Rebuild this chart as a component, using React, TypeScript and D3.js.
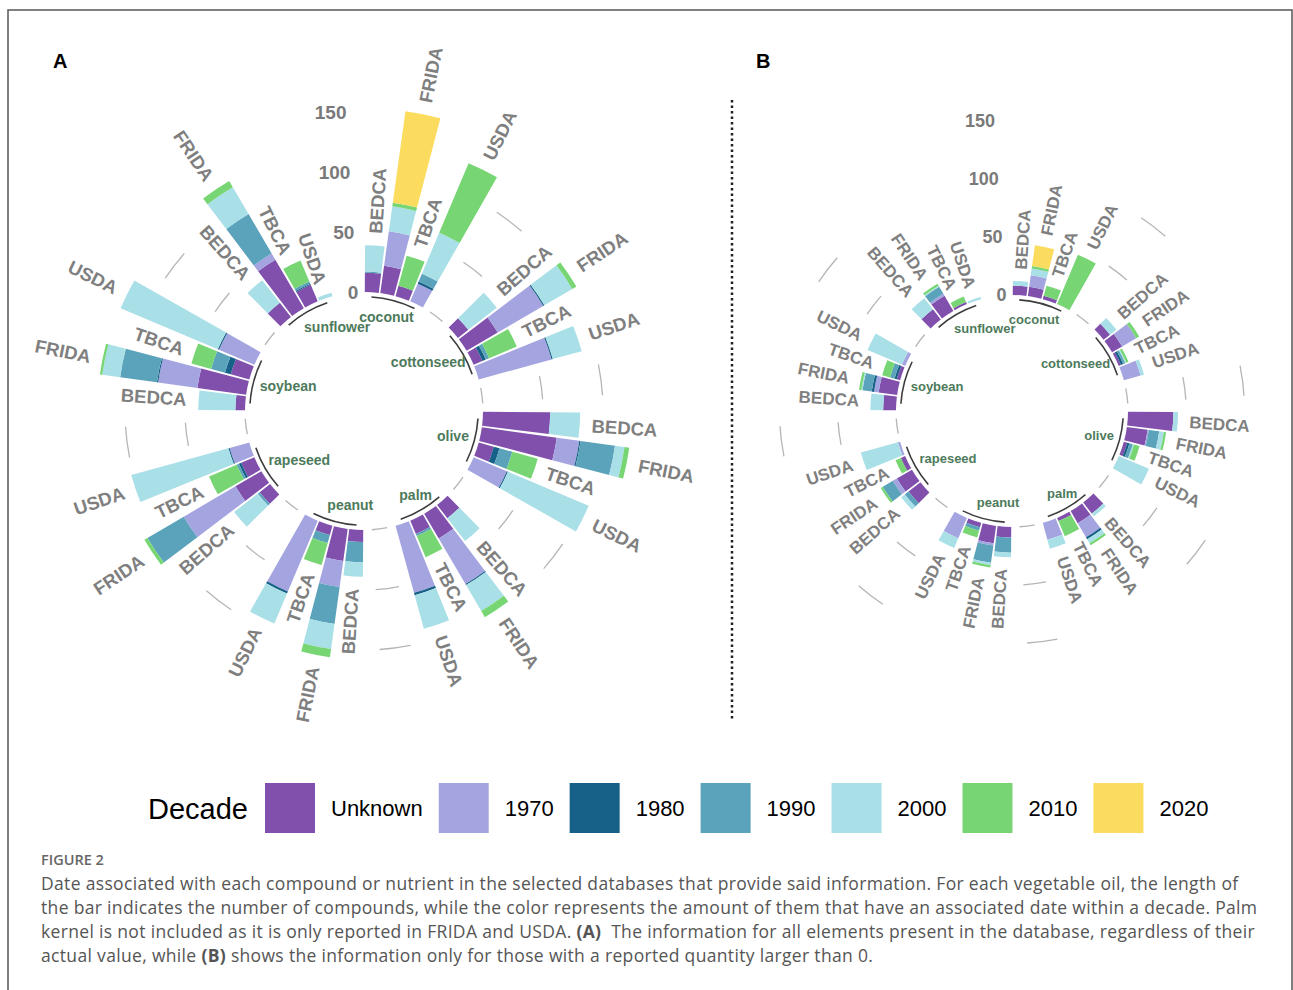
import React from 'react';
import * as d3 from 'd3';

// ---- data ----
const decades = ['Unknown', '1970', '1980', '1990', '2000', '2010', '2020'];
const decadeColors = ['#8150ac', '#a4a5e0', '#176087', '#5ba3bb', '#a9dfe7', '#77d673', '#fcdc5e'];
const oils = ['coconut', 'cottonseed', 'olive', 'palm', 'peanut', 'rapeseed', 'soybean', 'sunflower'];
const databases = ['BEDCA', 'FRIDA', 'TBCA', 'USDA'];
const radialTicks = [0, 50, 100, 150];
const gridValues = [0, 50, 100];

// one row per bar (oil by oil, databases in order), columns follow `decades`
const countsA = [
  [16, 0, 0, 1, 22, 0, 0], [23, 29, 0, 0, 21, 3, 77], [9, 0, 0, 0, 0, 26, 0], [0, 16, 2, 7, 37, 63, 0], // coconut
  [11, 0, 0, 0, 30, 0, 0], [30, 44, 1, 0, 27, 4, 0], [8, 0, 3, 3, 0, 25, 0], [0, 63, 1, 0, 25, 0, 0], // cottonseed
  [56, 0, 0, 0, 25, 0, 0], [63, 19, 1, 29, 8, 4, 0], [13, 0, 5, 11, 0, 22, 0], [0, 30, 1, 0, 73, 0, 0], // olive
  [14, 0, 0, 0, 24, 0, 0], [24, 44, 1, 0, 25, 6, 0], [12, 0, 0, 2, 0, 19, 0], [0, 58, 2, 0, 29, 0, 0], // palm
  [10, 0, 0, 17, 12, 0, 0], [27, 22, 0, 31, 21, 7, 0], [8, 0, 0, 7, 0, 19, 0], [0, 64, 2, 0, 27, 0, 0], // peanut
  [11, 0, 0, 2, 25, 0, 0], [25, 50, 0, 35, 0, 3, 0], [12, 0, 2, 2, 0, 25, 0], [0, 17, 1, 0, 84, 0, 0], // rapeseed
  [8, 0, 0, 0, 31, 0, 0], [41, 33, 1, 31, 15, 2, 0], [16, 0, 5, 12, 0, 17, 0], [0, 32, 1, 0, 88, 0, 0], // soybean
  [15, 0, 0, 0, 24, 0, 0], [47, 6, 0, 38, 26, 6, 0], [15, 0, 1, 2, 0, 19, 0], [0, 0, 0, 0, 3, 0, 0], // sunflower
];

const countsB = [
  [8, 0, 0, 0, 4, 0, 0], [8, 10, 0, 0, 6, 2, 18], [3, 0, 0, 0, 0, 9, 0], [0, 0, 0, 0, 0, 46, 0], // coconut
  [7, 0, 0, 0, 7, 0, 0], [10, 14, 0, 0, 0, 3, 0], [2, 0, 2, 2, 1, 2, 0], [0, 15, 0, 0, 3, 0, 0], // cottonseed
  [39, 0, 0, 0, 4, 0, 0], [18, 1, 0, 9, 4, 2, 0], [3, 0, 2, 3, 1, 5, 0], [0, 0, 0, 0, 28, 0, 0], // olive
  [12, 0, 0, 0, 3, 0, 0], [12, 14, 2, 0, 4, 2, 0], [3, 0, 0, 0, 0, 14, 0], [0, 15, 0, 0, 8, 0, 0], // palm
  [9, 0, 0, 13, 4, 0, 0], [15, 2, 0, 15, 2, 2, 0], [4, 0, 0, 3, 0, 6, 0], [0, 19, 0, 0, 9, 0, 0], // peanut
  [13, 0, 0, 4, 4, 0, 0], [15, 4, 0, 10, 0, 2, 0], [4, 0, 0, 0, 0, 5, 0], [0, 2, 0, 0, 33, 0, 0], // rapeseed
  [11, 0, 0, 0, 11, 0, 0], [16, 4, 2, 8, 1, 2, 0], [3, 0, 2, 4, 0, 7, 0], [0, 3, 0, 0, 32, 0, 0], // soybean
  [11, 0, 0, 0, 12, 0, 0], [15, 2, 0, 7, 1, 2, 0], [2, 0, 0, 0, 0, 5, 0], [0, 0, 0, 0, 2, 0, 0], // sunflower
];

const captionLines = [
  'Date associated with each compound or nutrient in the selected databases that provide said information. For each vegetable oil, the length of',
  'the bar indicates the number of compounds, while the color represents the amount of them that have an associated date within a decade. Palm',
];

// ---- layout ----
const panelA = { cx: 364, cy: 411, r0: 119, unit: 1.2, labelSize: 18.5, groupSize: 14, tickSize: 19 };
const panelB = { cx: 1012, cy: 411, r0: 116, unit: 1.165, labelSize: 17, groupSize: 13, tickSize: 18 };
// horizontal justification of the oil names around the inner ring
const groupHjust = [0.55, 0.77, 0.66, 0.41, 0.25, 0.18, 0.18, 0.17];

const FONT = "'Liberation Sans', Arial, Helvetica, sans-serif";
const LABEL_GREY = '#7f7f7f';

const measureCtx = typeof document !== 'undefined' ? document.createElement('canvas').getContext('2d') : null;
function textWidth(t: string, font: string) {
  if (!measureCtx) return t.length * 8;
  measureCtx.font = font;
  return measureCtx.measureText(t).width;
}

function CircularPanel({ counts, layout }: { counts: number[][]; layout: typeof panelA }) {
  const { cx, cy, r0, unit, labelSize, groupSize, tickSize } = layout;

  const slots = oils.flatMap(o => [...databases.map(d => `${o}|${d}`), `${o}|gap1`, `${o}|gap2`]);
  const angle = d3.scaleBand<string>().domain(slots).range([0, 2 * Math.PI]).paddingInner(0.1).paddingOuter(0.05);
  const y = d3.scaleLinear().domain([0, 150]).range([r0, r0 + 150 * unit]);
  const mid = (k: string) => (angle(k) as number) + angle.bandwidth() / 2;
  const pt = (a: number, r: number) => [r * Math.sin(a), -r * Math.cos(a)];

  const rows = counts.map((vals, i) => {
    const row: any = { key: `${oils[Math.floor(i / 4)]}|${databases[i % 4]}`, total: d3.sum(vals) };
    decades.forEach((d, j) => { row[d] = vals[j]; });
    return row;
  });
  const series = d3.stack<any>().keys(decades)(rows);
  const arc = d3.arc<any>();

  const ringArc = (a0: number, a1: number, r: number) => {
    const p = d3.path();
    p.arc(0, 0, r, a0 - Math.PI / 2, a1 - Math.PI / 2);
    return p.toString();
  };

  return (
    <g transform={`translate(${cx},${cy})`}>
      {/* grid segments in the gaps between oils */}
      {oils.slice(0, -1).map(o =>
        gridValues.map(v => (
          <path key={`${o}-${v}`} d={ringArc(mid(`${o}|gap1`), mid(`${o}|gap2`), y(v))}
            fill="none" stroke="#b5b5b5" strokeWidth={1.3} />
        ))
      )}
      {/* stacked bars */}
      {series.map((s, j) =>
        s.map(d => {
          if (d[1] - d[0] <= 0) return null;
          const k = d.data.key;
          return (
            <path key={`${k}-${j}`} fill={decadeColors[j]}
              d={arc({ innerRadius: y(d[0]), outerRadius: y(d[1]), startAngle: angle(k), endAngle: (angle(k) as number) + angle.bandwidth() }) as string} />
          );
        })
      )}
      {/* database labels */}
      {rows.map(r => {
        const a = mid(r.key);
        const [x, yy] = pt(a, y(r.total + 10));
        const deg = (a * 180) / Math.PI;
        const right = deg < 180;
        return (
          <text key={`lab-${r.key}`} transform={`translate(${x},${yy}) rotate(${right ? deg - 90 : deg + 90})`}
            textAnchor={right ? 'start' : 'end'} dominantBaseline="central"
            fontSize={labelSize} fontWeight="bold" fill={LABEL_GREY}>
            {r.key.split('|')[1]}
          </text>
        );
      })}
      {/* oil arcs and names */}
      {oils.map((o, i) => {
        const a0 = mid(`${o}|${databases[0]}`);
        const a1 = mid(`${o}|${databases[3]}`);
        const [x, yy] = pt((a0 + a1) / 2, y(-18));
        const w = textWidth(o, `bold ${groupSize}px ${FONT}`);
        return (
          <g key={`grp-${o}`}>
            <path d={ringArc(a0, a1, y(-4))} fill="none" stroke="#1a1a1a" strokeOpacity={0.85} strokeWidth={1.6} />
            <text x={x - groupHjust[i] * w} y={yy} dominantBaseline="central" fontSize={groupSize}
              fontWeight="bold" fill="#4d7a5b">{o}</text>
          </g>
        );
      })}
      {/* radial axis labels */}
      {radialTicks.map(v => {
        const [x, yy] = pt(mid(`${oils[oils.length - 1]}|gap2`), y(v));
        return (
          <text key={`tick-${v}`} x={x + 2} y={yy} textAnchor="end" dominantBaseline="central"
            fontSize={tickSize} fontWeight="bold" fill="#7a7a7a">{v}</text>
        );
      })}
    </g>
  );
}

function Legend() {
  const labelFont = `22px ${FONT}`;
  let x = 265;
  const items = decades.map((d, i) => {
    const item = { d, color: decadeColors[i], x };
    x += 50 + 16 + textWidth(d, labelFont) + 16;
    return item;
  });
  return (
    <g>
      <text x={148} y={819} fontSize={29}>Decade</text>
      {items.map(it => (
        <g key={it.d}>
          <rect x={it.x} y={783} width={50} height={50} fill={it.color} />
          <text x={it.x + 66} y={816} fontSize={22}>{it.d}</text>
        </g>
      ))}
    </g>
  );
}

function Caption() {
  const capFont = "'Open Sans', 'Noto Sans', sans-serif";
  return (
    <g fontFamily={capFont} fill="#555" fontSize={17.5} letterSpacing={0.33}>
      <text x={41} y={865} fontSize={14.5} fontWeight={600} fill="#666" letterSpacing={0}>FIGURE 2</text>
      {captionLines.map((l, i) => (
        <text key={i} x={41} y={890 + i * 24}>{l}</text>
      ))}
      <text x={41} y={938} style={{ whiteSpace: 'pre' }}>
        kernel is not included as it is only reported in FRIDA and USDA. <tspan fontWeight="bold">(A)</tspan>
        {'  The information for all elements present in the database, regardless of their'}
      </text>
      <text x={41} y={962}>
        actual value, while <tspan fontWeight="bold">(B)</tspan> shows the information only for those with a reported quantity larger than 0.
      </text>
    </g>
  );
}

export default function App() {
  return (
    <svg width={1293} height={990} style={{ position: 'absolute', left: 0, top: 0, background: '#fff' }}
      fontFamily={FONT}>
      <rect x={0} y={0} width={1293} height={990} fill="#fff" />
      <rect x={8} y={10} width={1284} height={995} fill="none" stroke="#555" strokeWidth={1.5} />
      <text x={53} y={68} fontSize={20} fontWeight="bold">A</text>
      <text x={756} y={68} fontSize={20} fontWeight="bold">B</text>
      <line x1={732} x2={732} y1={100} y2={720} stroke="#222" strokeWidth={2.5} strokeDasharray="2.5 3" />
      <CircularPanel counts={countsA} layout={panelA} />
      <CircularPanel counts={countsB} layout={panelB} />
      <Legend />
      <Caption />
    </svg>
  );
}
